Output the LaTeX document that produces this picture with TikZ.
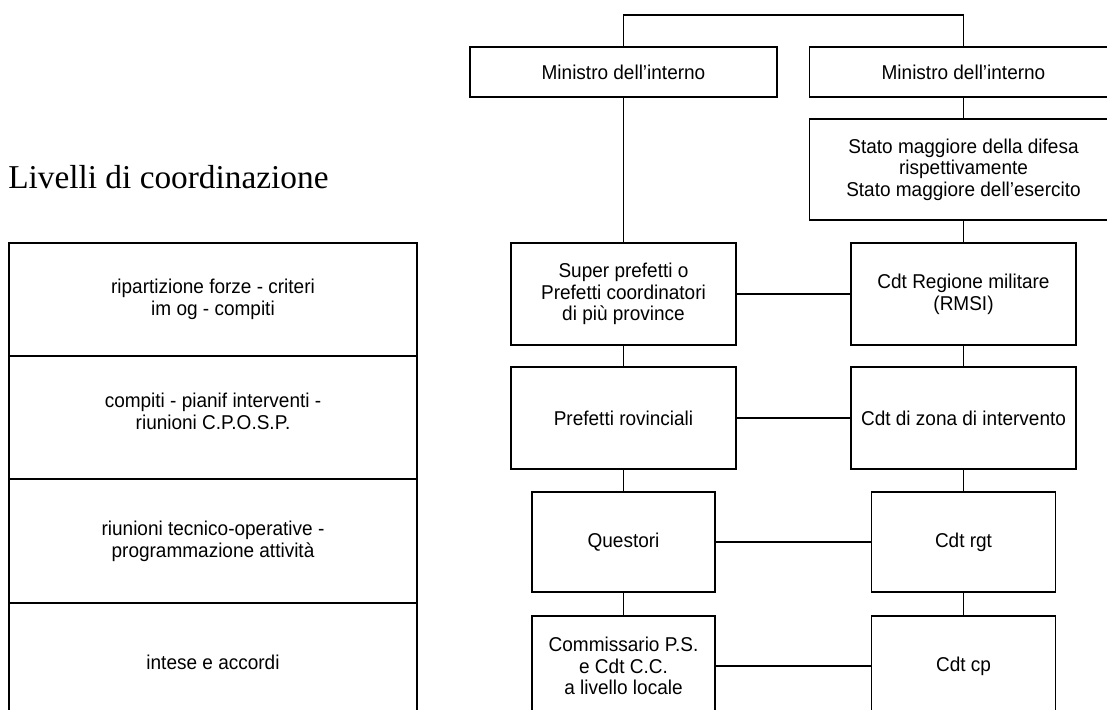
\documentclass[tikz,border=0pt]{standalone}
\usepackage{fontspec}
\newfontfamily\boxfont{Liberation Sans}[FakeStretch=0.95]
\newfontfamily\titlefont{Liberation Serif}
\begin{document}
\begin{tikzpicture}[x=0.75pt,y=-0.75pt,
  box/.style={draw, line width=1.45pt, inner sep=2pt, align=center,
    font=\boxfont\fontsize{15}{16.25}\selectfont},
  row/.style={box, minimum width=306pt},
  link/.style={line width=1.45pt}]
\useasboundingbox (0,0) rectangle (1107,710);
\clip (0,0) rectangle (1107,710);
\fill[white] (0,0) rectangle (1107,710);

% title
\node[anchor=base west, inner sep=0pt, font=\titlefont\fontsize{25}{29}\selectfont] (title) at (8,188) {Livelli di coordinazione};

% left table
\node[row, minimum height=84.5pt] (r1) at (213,299.3) {ripartizione forze - criteri\\im og - compiti};
\node[row, minimum height=92.5pt] (r2) at (213,417.35) {compiti - pianif interventi -\\riunioni C.P.O.S.P.\\[-7pt]\mbox{}};
\node[row, minimum height=93pt] (r3) at (213,541) {riunioni tecnico-operative -\\programmazione attività};
\node[row, minimum height=88.5pt] (r4) at (213,662) {intese e accordi};

% organigram
\node[box, minimum width=230.25pt, minimum height=37.5pt] (minL) at (623.5,72) {Ministro dell’interno};
\node[box, minimum width=231pt, minimum height=37.5pt] (minR) at (963.5,72) {Ministro dell’interno};
\node[box, minimum width=231pt, minimum height=75.75pt] (stato) at (963.5,169.5) {Stato maggiore della difesa\\rispettivamente\\Stato maggiore dell’esercito};
\node[box, minimum width=168.75pt, minimum height=76.5pt] (super) at (623.5,294) {Super prefetti o\\Prefetti coordinatori\\di più province};
\node[box, minimum width=168.75pt, minimum height=76.5pt] (reg) at (963.5,294) {Cdt Regione militare\\(RMSI)};
\node[box, minimum width=168.75pt, minimum height=76.5pt] (pref) at (623.5,418) {Prefetti rovinciali};
\node[box, minimum width=168.75pt, minimum height=76.5pt] (zona) at (963.5,418) {Cdt di zona di intervento};
\node[box, minimum width=137.25pt, minimum height=75pt] (quest) at (623.5,542) {Questori};
\node[box, minimum width=138pt, minimum height=75pt] (rgt) at (963.5,542) {Cdt rgt};
\node[box, minimum width=137.25pt, minimum height=75pt] (comm) at (623.5,666) {Commissario P.S.\\e Cdt C.C.\\a livello locale};
\node[box, minimum width=138pt, minimum height=75pt] (cp) at (963.5,666) {Cdt cp};

% connectors
\coordinate (top) at (793.5,15);
\draw[link] (minL.north) |- (top) -| (minR.north);
\draw[link] (minL.south) -- (super.north);
\draw[link] (minR.south) -- (stato.north);
\draw[link] (stato.south) -- (reg.north);
\draw[link] (super.south) -- (pref.north);
\draw[link] (reg.south) -- (zona.north);
\draw[link] (pref.south) -- (quest.north);
\draw[link] (zona.south) -- (rgt.north);
\draw[link] (quest.south) -- (comm.north);
\draw[link] (rgt.south) -- (cp.north);
\draw[link] (super.east) -- (reg.west);
\draw[link] (pref.east) -- (zona.west);
\draw[link] (quest.east) -- (rgt.west);
\draw[link] (comm.east) -- (cp.west);
\end{tikzpicture}
\end{document}
